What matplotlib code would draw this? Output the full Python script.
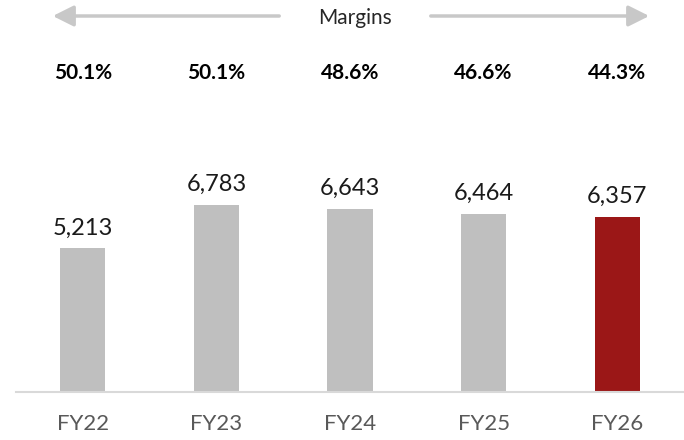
import numpy as np
import matplotlib.pyplot as plt
from matplotlib.patches import FancyArrowPatch

# данные
years = ['FY22', 'FY23', 'FY24', 'FY25', 'FY26']
values = [5213, 6783, 6643, 6464, 6357]
margins = ['50.1%', '50.1%', '48.6%', '46.6%', '44.3%']
bar_colors = ['#bfbfbf', '#bfbfbf', '#bfbfbf', '#bfbfbf', '#9b1717']

plt.rcParams['font.family'] = ['Lato', 'DejaVu Sans']

fig = plt.figure(figsize=(6.84, 4.4), dpi=100)
ax = fig.add_axes([16 / 684, 48 / 440, 1 - 16 / 684, 1 - 48 / 440])

x = np.arange(len(years))
ax.bar(x, values, width=0.337, color=bar_colors)
ax.set_xlim(-0.5, 4.5)
ax.set_ylim(0, 14218)

# подписи значений
for i, v in enumerate(values):
    ax.text(i, v + 360, f'{v:,}', ha='center', va='bottom', fontsize=17, color='#1a1a1a')

# маржа
for i, m in enumerate(margins):
    ax.text(i, 0.814, m, transform=ax.get_xaxis_transform(), ha='center', va='center',
            fontsize=15, fontweight='bold', color='black')

# оси
for s in ['top', 'right', 'left']:
    ax.spines[s].set_visible(False)
ax.spines['bottom'].set_color('#d9d9d9')
ax.spines['bottom'].set_linewidth(1.5)
ax.set_yticks([])
ax.set_xticks(x)
ax.set_xticklabels(years, fontsize=16, color='#595959')
ax.tick_params(axis='x', length=0, pad=16)

# стрелки "Margins"
arrow = dict(arrowstyle='-|>,head_length=0.7,head_width=0.35', color='#c8c8c8', lw=2.5, mutation_scale=18)
fig.patches.append(FancyArrowPatch((282 / 684, 1 - 16 / 440), (50 / 684, 1 - 16 / 440),
                                   transform=fig.transFigure, **arrow))
fig.patches.append(FancyArrowPatch((428 / 684, 1 - 16 / 440), (652 / 684, 1 - 16 / 440),
                                   transform=fig.transFigure, **arrow))
fig.text(355 / 684, 1 - 18 / 440, 'Margins', ha='center', va='center', fontsize=15, color='#262626')

fig.savefig('out.png', dpi=100)
